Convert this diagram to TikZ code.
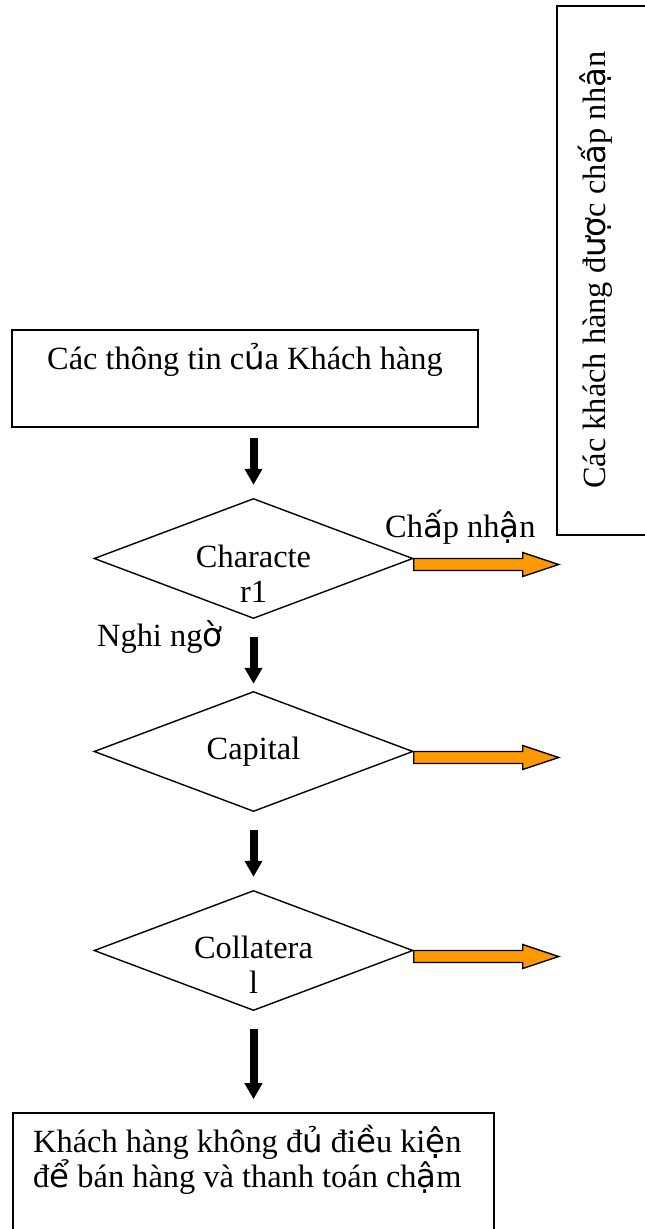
\documentclass[tikz,border=0pt]{standalone}
\usepackage{fontspec}
\setmainfont{Liberation Serif}
\newfontfamily\fbfont{DejaVu Sans}
% glyphs with stacked or horn diacritics are set in the sans fallback
\newcommand\fbk[1]{{\fbfont #1}}
\usetikzlibrary{shapes.geometric,arrows.meta}

\definecolor{arroworange}{RGB}{255,153,0}

\tikzset{
  frame/.style={draw, line width=1.6pt, inner sep=0pt},
  decision/.style={diamond, draw, line width=1.4pt, inner sep=0pt,
                   minimum width=319pt, minimum height=120pt},
  txt/.style={inner sep=0pt, anchor=base},
  flow/.style={line width=8pt, -{Triangle[width=17pt,length=16pt]}},
  accept/.style={draw, line width=1.4pt, fill=arroworange, line join=miter},
}

\begin{document}
\begin{tikzpicture}[x=1pt, y=-1pt, font=\fontsize{32.4}{35}\selectfont]
  \useasboundingbox (0,0) rectangle (645,1229);
  \clip (0,0) rectangle (645,1229);

  % input box
  \node[frame, minimum width=466pt, minimum height=97pt] (info) at (245,378.5) {};
  \node[txt] (infotxt) at (245,369) {Các thông tin c\fbk{ủ}a Khách hàng};

  % accepted customers box (runs off the right edge)
  \node[frame, minimum width=110pt, minimum height=529pt] (ok) at (612,270.5) {};
  \node[txt, rotate=90, anchor=base west] (oktxt) at (605,489)
    {Các khách hàng đ\fbk{ượ}c ch\fbk{ấ}p nh\fbk{ậ}n};

  % decisions
  \node[decision] (d1) at (253.5,558.5) {};
  \node[txt] (d1a) at (253.5,567) {Characte};
  \node[txt] (d1b) at (253.5,602) {r1};

  \node[decision] (d2) at (253.5,751.5) {};
  \node[txt] (d2a) at (253.5,759) {Capital};

  \node[decision] (d3) at (253.5,950.5) {};
  \node[txt] (d3a) at (253.5,958) {Collatera};
  \node[txt] (d3b) at (253.5,993) {l};

  % rejected box (runs off the bottom edge)
  \node[frame, minimum width=481pt, minimum height=140pt] (no) at (253.5,1183) {};
  \node[txt, anchor=base west] (notxt1) at (33,1152)
    {Khách hàng không đ\fbk{ủ} đi\fbk{ề}u ki\fbk{ệ}n};
  \node[txt, anchor=base west] (notxt2) at (33,1187)
    {đ\fbk{ể} bán hàng và thanh toán ch\fbk{ậ}m};

  % labels
  \node[txt, anchor=base west] (yes) at (385,537) {Ch\fbk{ấ}p nh\fbk{ậ}n};
  \node[txt, anchor=base west] (doubt) at (97,646) {Nghi ng\fbk{ờ}};

  % downward flow
  \draw[flow, shorten <=10pt, shorten >=13pt] (info.south -| d1.north) -- (d1.north);
  \draw[flow, shorten <=18pt, shorten >=7pt] (d1.south) -- (d2.north);
  \draw[flow, shorten <=18pt, shorten >=13pt] (d2.south) -- (d3.north);
  \draw[flow, shorten <=18pt, shorten >=13pt] (d3.south) -- (no.north -| d3.south);

  % acceptance arrows
  \foreach \d in {d1,d2,d3}{
    \draw[accept] (\d.east) -- ++(109,0) -- ++(0,-6) -- ++(36,12)
      -- ++(-36,12) -- ++(0,-6) -- ++(-109,0) -- cycle;
  }
\end{tikzpicture}
\end{document}
